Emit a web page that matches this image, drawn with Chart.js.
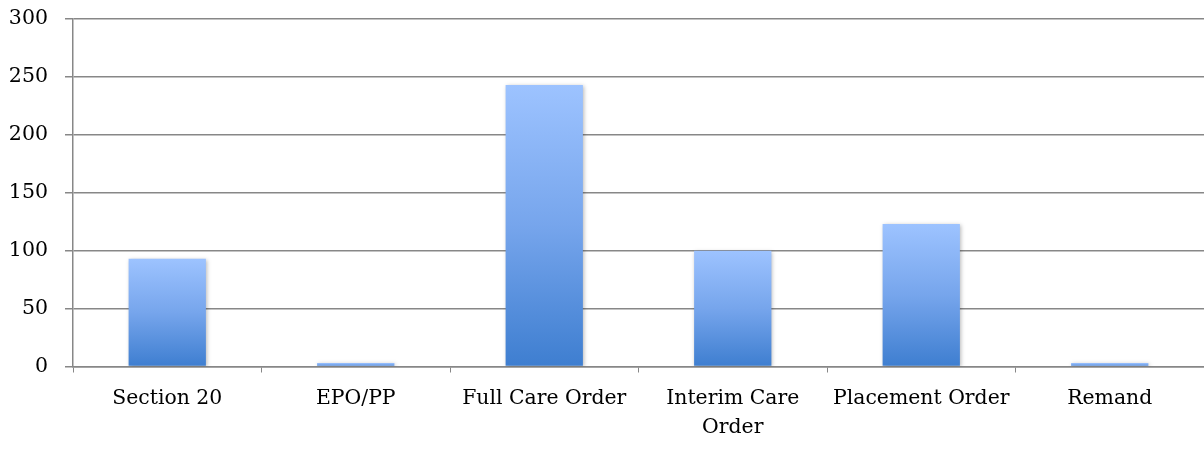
<!DOCTYPE html>
<html>
<head>
<meta charset="utf-8">
<script src="https://cdn.jsdelivr.net/npm/chart.js@4.4.1/dist/chart.umd.min.js"></script>
<style>
  html, body { margin: 0; padding: 0; background: #ffffff; }
  #wrap { width: 1204px; height: 454px; position: relative; }
</style>
</head>
<body>
<div id="wrap"><canvas id="chart"></canvas></div>
<script>
// Orders by type
const categories = [
  'Section 20',
  'EPO/PP',
  'Full Care Order',
  ['Interim Care', 'Order'],
  'Placement Order',
  'Remand'
];
const counts = [93, 3, 243, 100, 123, 3];
const yTicks = [0, 50, 100, 150, 200, 250, 300];

const FONT = "'DejaVu Serif', 'Liberation Serif', serif";
const GRID = '#878787';

// Vertical blue gradient per bar: light at the top, deeper at the base
function barFill(ctx) {
  const chart = ctx.chart;
  const area = chart.chartArea;
  if (!area || ctx.type !== 'data') return '#6a9de6';
  const y = chart.scales.y;
  const top = y.getPixelForValue(ctx.raw);
  const base = y.getPixelForValue(0);
  if (!isFinite(top) || base - top < 1) return '#4a83d4';
  const g = chart.ctx.createLinearGradient(0, top, 0, base);
  g.addColorStop(0, '#9dc3ff');
  g.addColorStop(0.5, '#76a5ec');
  g.addColorStop(1, '#3e7ed0');
  return g;
}

// Soft drop shadow under the bars
const barShadow = {
  id: 'barShadow',
  beforeDatasetsDraw(chart) {
    const c = chart.ctx;
    c.save();
    c.shadowColor = 'rgba(0,0,0,0.28)';
    c.shadowBlur = 4;
    c.shadowOffsetX = 1;
    c.shadowOffsetY = 1;
  },
  afterDatasetsDraw(chart) {
    chart.ctx.restore();
  }
};

new Chart(document.getElementById('chart'), {
  type: 'bar',
  data: {
    labels: categories,
    datasets: [{
      data: counts,
      backgroundColor: barFill,
      borderWidth: 0,
      categoryPercentage: 1,
      barPercentage: 0.41
    }]
  },
  plugins: [barShadow],
  options: {
    responsive: true,
    maintainAspectRatio: false,
    animation: false,
    layout: { padding: { top: 19, right: 0, bottom: 0, left: 0 } },
    plugins: { legend: { display: false }, tooltip: { enabled: false } },
    scales: {
      x: {
        grid: {
          display: true,
          drawOnChartArea: false,
          drawTicks: true,
          tickLength: 6,
          color: GRID,
          offset: true
        },
        border: { display: true, color: GRID, width: 1.5 },
        ticks: {
          color: '#000000',
          font: { family: FONT, size: 20.4, lineHeight: 1.45 },
          padding: 11,
          maxRotation: 0,
          autoSkip: false
        },
        afterFit(s) {
          s.height = 87.5;
          s.paddingLeft = 0;
          s.paddingRight = 0;
        }
      },
      y: {
        min: 0,
        max: 300,
        afterBuildTicks(s) { s.ticks = yTicks.map(v => ({ value: v })); },
        grid: {
          color: GRID,
          lineWidth: 1.5,
          drawTicks: true,
          tickLength: 8
        },
        border: { display: true, color: GRID, width: 1.5 },
        ticks: {
          color: '#000000',
          font: { family: FONT, size: 20.5 },
          padding: 17
        },
        afterFit(s) {
          s.width = 73;
          s.paddingTop = 0;
          s.paddingBottom = 0;
        }
      }
    }
  }
});
</script>
</body>
</html>
